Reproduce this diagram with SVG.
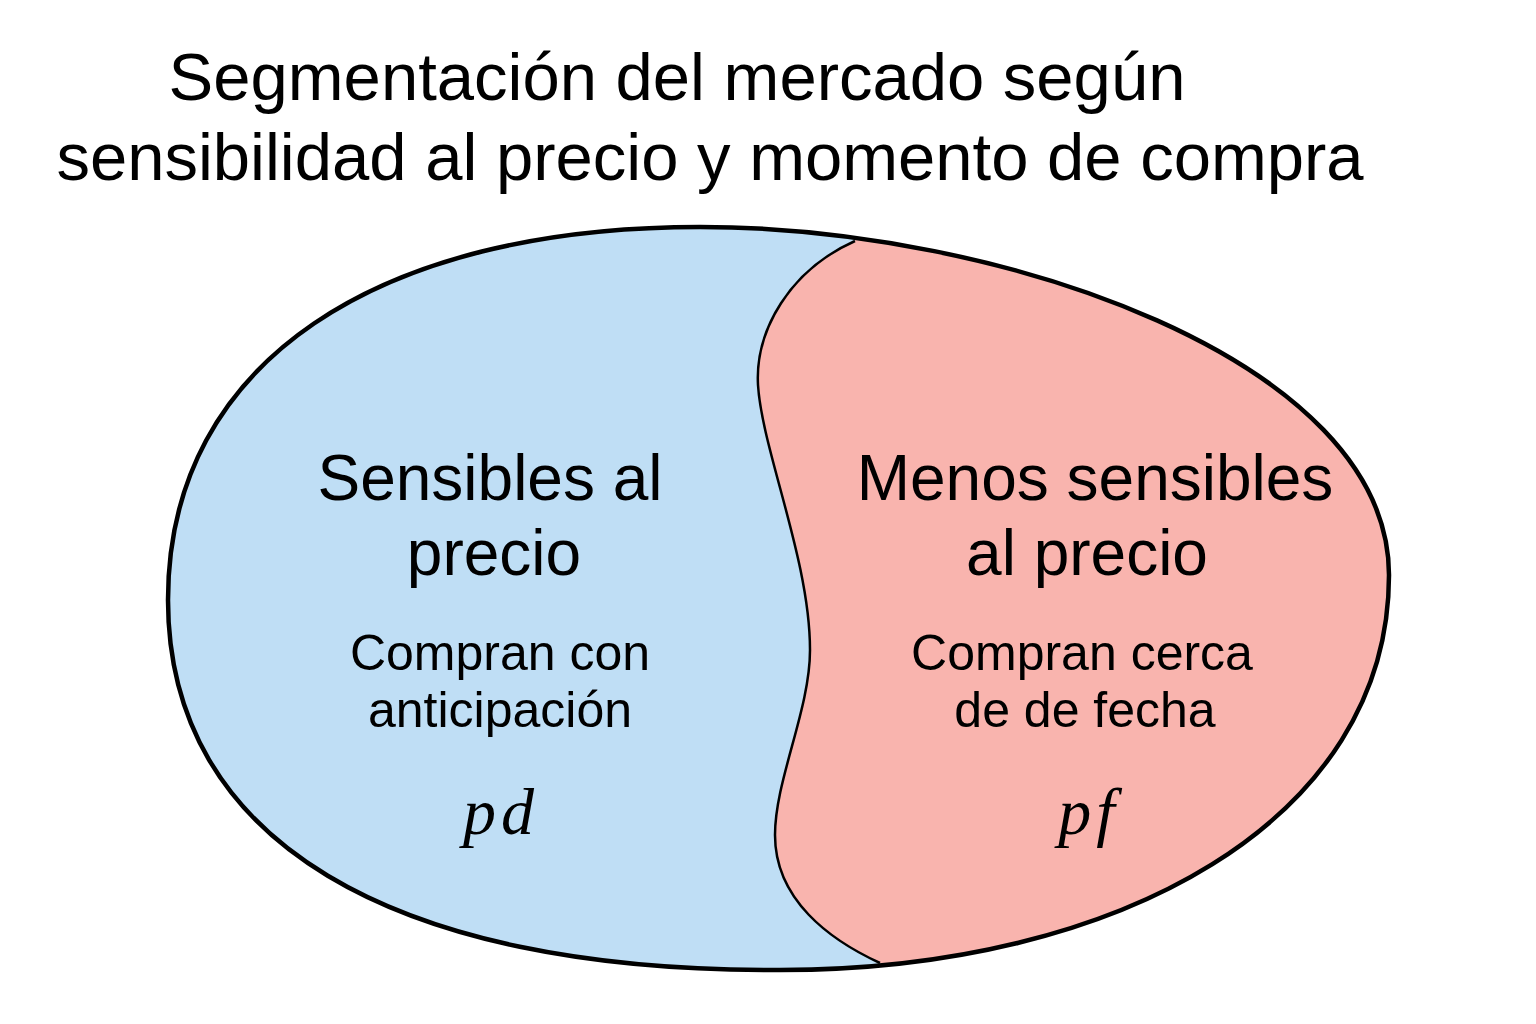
<svg xmlns="http://www.w3.org/2000/svg" width="1536" height="1024" viewBox="0 0 1536 1024">
  <style>
    .title { font-family: "Liberation Sans", Arial, sans-serif; font-size: 67px; fill: #000; text-anchor: middle; }
    .head { font-family: "Liberation Sans", Arial, sans-serif; font-size: 64px; fill: #000; text-anchor: middle; }
    .sub { font-family: "Liberation Sans", Arial, sans-serif; font-size: 50px; fill: #000; text-anchor: middle; }
    .math { font-family: "Liberation Serif", "DejaVu Serif", serif; font-style: italic; font-size: 66px; fill: #000; text-anchor: middle; letter-spacing: 5px; }
  </style>
  <defs>
    <path id="outer" d="M 700 227 C 1000 227 1389 360 1389 575 C 1389 820 1120 970 780 970 C 390 972 168 840 168 600 C 168 360 380 227 700 227 Z"/>
    <clipPath id="clipOuter">
      <use href="#outer"/>
    </clipPath>
  </defs>
  <rect width="1536" height="1024" fill="#ffffff"/>

  <g id="title">
    <text class="title" x="677" y="100">Segmentación del mercado según</text>
    <text class="title" x="710" y="180">sensibilidad al precio y momento de compra</text>
  </g>

  <g id="market">
    <use href="#outer" fill="#BFDEF5"/>
    <path clip-path="url(#clipOuter)" fill="#F9B4AE" d="M 855 241 C 790 270 755 330 758 385 C 762 450 810 560 810 650 C 810 710 775 780 775 835 C 775 900 830 940 880 963 L 1500 1000 L 1500 150 L 855 150 Z"/>
    <path fill="none" stroke="#000" stroke-width="2.5" d="M 855 241 C 790 270 755 330 758 385 C 762 450 810 560 810 650 C 810 710 775 780 775 835 C 775 900 830 940 880 963"/>
    <use href="#outer" fill="none" stroke="#000" stroke-width="4.5"/>
  </g>

  <g id="region-left">
    <text class="head" x="490" y="500">Sensibles al</text>
    <text class="head" x="494" y="575">precio</text>
    <text class="sub" x="500" y="670">Compran con</text>
    <text class="sub" x="500" y="727">anticipación</text>
    <text class="math" x="501" y="834">pd</text>
  </g>

  <g id="region-right">
    <text class="head" x="1095" y="500">Menos sensibles</text>
    <text class="head" x="1087" y="575">al precio</text>
    <text class="sub" x="1082" y="670">Compran cerca</text>
    <text class="sub" x="1085" y="727">de de fecha</text>
    <text class="math" x="1089" y="834">pf</text>
  </g>

  <g id="connectors"/>
</svg>
